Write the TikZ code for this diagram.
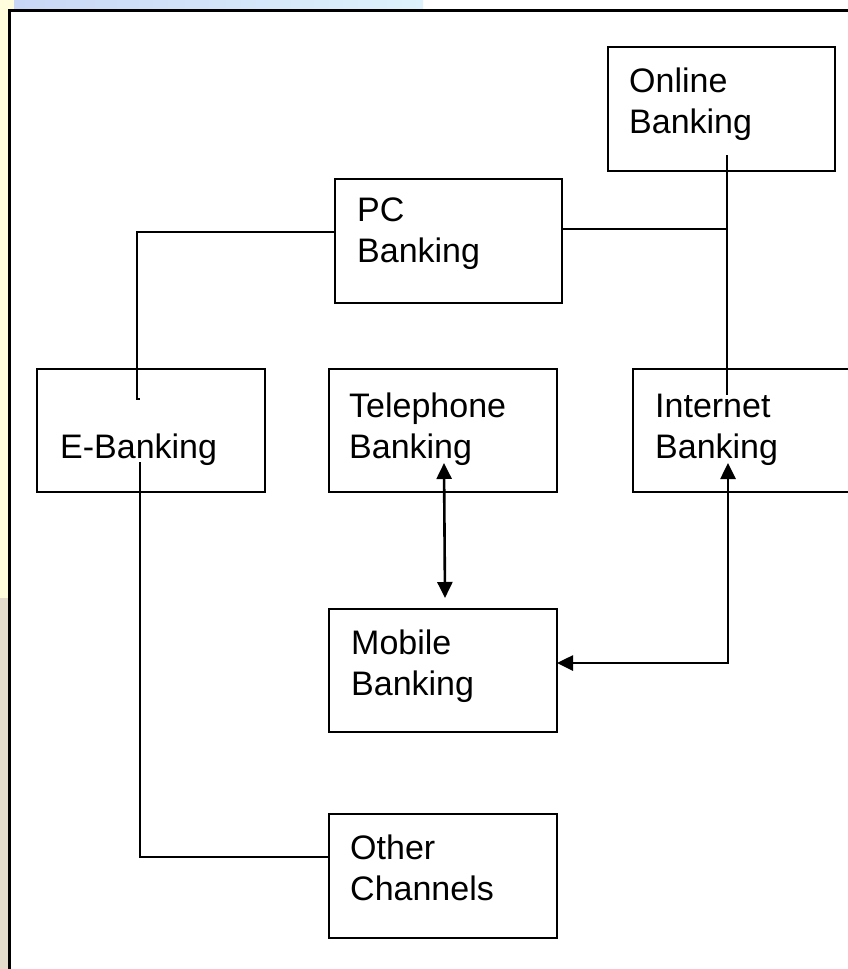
\documentclass[tikz,border=0pt]{standalone}
\usepackage{fontspec}
\setmainfont{Liberation Sans}
\usetikzlibrary{arrows.meta,calc}
\definecolor{stripyellow}{HTML}{FFFDDC}
\definecolor{stripbeige}{HTML}{E3DBCB}
\definecolor{stripblueA}{HTML}{C9D6F6}
\definecolor{stripblueB}{HTML}{DDF2FC}
\tikzset{
  box/.style={draw, line width=1.7pt, inner sep=0pt, outer sep=0pt, fill=white},
  lbl/.style={anchor=base west, inner sep=0pt, align=left, font=\fontsize{34}{41}\selectfont},
  conn/.style={line width=1.7pt},
  dblarr/.style={line width=2.6pt, {Triangle[length=16pt,width=15pt]}-{Triangle[length=16pt,width=15pt]}}
}
\begin{document}
\begin{tikzpicture}[x=1pt,y=-1pt]
\useasboundingbox (0,0) rectangle (848,969);
% background
\fill[white] (0,0) rectangle (848,969);
\fill[stripyellow] (0,0) rectangle (8,598);
\fill[stripbeige] (0,598) rectangle (8,969);
\fill[stripyellow] (0,0) rectangle (14,10);
\shade[left color=stripblueA, right color=stripblueB] (14,0) rectangle (423,10);
\draw[line width=3pt] (870,10) -- (9,10) -- (9,990);

% boxes
\node[box, minimum width=227pt, minimum height=124pt] (online) at (721.5,109) {};
\node[box, minimum width=227pt, minimum height=124pt] (pc) at (448.5,241) {};
\node[box, minimum width=228pt, minimum height=123pt] (ebank) at (151,430.5) {};
\node[box, minimum width=228pt, minimum height=123pt] (tel) at (443,430.5) {};
\node[box, minimum width=224pt, minimum height=123pt] (inet) at (745,430.5) {};
\node[box, minimum width=228pt, minimum height=123pt] (mobile) at (443,670.5) {};
\node[box, minimum width=228pt, minimum height=124pt] (other) at (443,876) {};

% labels (anchor = baseline of the last line)
\node[lbl] (onlineT) at (629,133) {Online\\Banking};
\node[lbl] (pcT) at (357,262) {PC\\Banking};
\node[lbl] (ebankT) at (60,458) {E-Banking};
\node[lbl] (telT) at (349,458) {Telephone\\Banking};
\node[lbl] (inetT) at (655,458) {Internet\\Banking};
\node[lbl] (mobileT) at (351,695) {Mobile\\Banking};
\node[lbl] (otherT) at (350,900) {Other\\Channels};

% connector coordinates
\coordinate (pcL) at (335,232);
\coordinate (ebTop) at (137,399);
\coordinate (pcR) at (562,229);
\coordinate (jn) at (727,229);
\coordinate (onlineDrop) at (727,155);
\coordinate (inetTop) at (727,395);
\coordinate (telTip) at (444,463);
\coordinate (mobTip) at (445,598);
\coordinate (inetTip) at (728,463);
\coordinate (mobR) at (557,663);
\coordinate (ebBot) at (140,462);
\coordinate (otherL) at (329,857);

% connectors
\draw[conn] (pcL) -| (ebTop) -- ++(3,0);
\draw[conn] (pcR) -- (jn);
\draw[conn] (onlineDrop) -- (inetTop);
\draw[dblarr] (telTip) -- (mobTip);
\draw[dblarr] (inetTip) |- (mobR);
\draw[conn] (ebBot) |- (otherL);
\end{tikzpicture}
\end{document}
